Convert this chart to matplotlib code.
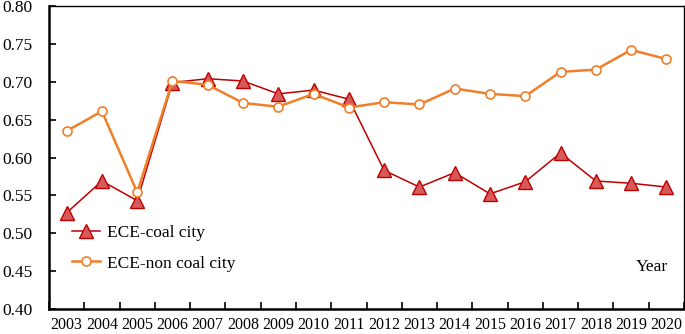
"""
ECE of coal cities vs non coal cities, 2003-2020
"""

import numpy as np
import matplotlib
matplotlib.use("Agg")
import matplotlib.pyplot as plt

years = [str(y) for y in range(2003, 2021)]
coal_city = [0.527, 0.569, 0.543, 0.699, 0.704, 0.701, 0.684, 0.689, 0.677,
             0.583, 0.561, 0.580, 0.552, 0.568, 0.606, 0.569, 0.566, 0.561]
non_coal_city = [0.635, 0.661, 0.554, 0.701, 0.696, 0.672, 0.667, 0.684, 0.666,
                 0.673, 0.670, 0.691, 0.684, 0.681, 0.713, 0.716, 0.742, 0.730]
y_ticks = [0.40, 0.45, 0.50, 0.55, 0.60, 0.65, 0.70, 0.75, 0.80]

plt.rcParams["font.family"] = ["Liberation Serif", "DejaVu Serif"]

fig = plt.figure(figsize=(6.85, 3.34), dpi=100)
ax = fig.add_axes([49 / 685, 25 / 334, 635 / 685, 303 / 334])

x = np.arange(len(years))
ax.plot(x, coal_city, color="#C00000", lw=1.1, marker="^", markersize=10,
        markerfacecolor="#D65A5A", markeredgecolor="#C00000", markeredgewidth=1.0,
        label="ECE-coal city", zorder=3)
ax.plot(x, non_coal_city, color="#F07F2A", lw=1.8, marker="o", markersize=6.5,
        markerfacecolor="white", markeredgecolor="#F07F2A", markeredgewidth=1.2,
        label="ECE-non coal city", zorder=4)

ax.set_xlim(-0.5, len(years) - 0.5)
ax.set_ylim(0.40, 0.80)
ax.set_yticks(y_ticks)
ax.set_yticklabels([f"{v:.2f}" for v in y_ticks], fontsize=12.5)
ax.set_xticks(x)
ax.set_xticklabels(years, fontsize=11.5)
ax.set_xticks(np.arange(-0.5, len(years), 1.0), minor=True)
ax.tick_params(axis="x", which="major", length=0, pad=6)
ax.tick_params(axis="x", which="minor", direction="in", length=5, width=1.2)
ax.tick_params(axis="y", direction="in", length=5, width=1.2, pad=12)

for side in ["left", "bottom"]:
    ax.spines[side].set_linewidth(1.8)
for side in ["top", "right"]:
    ax.spines[side].set_linewidth(1.0)

ax.legend(loc="lower left", bbox_to_anchor=(0.012, 0.072), frameon=False,
          fontsize=12.5, handlelength=1.6, handletextpad=0.4, labelspacing=0.82)
ax.text(0.975, 0.14, "Year", transform=ax.transAxes, ha="right", va="center",
        fontsize=12.5)

fig.savefig("out.png", dpi=100)
plt.close(fig)
